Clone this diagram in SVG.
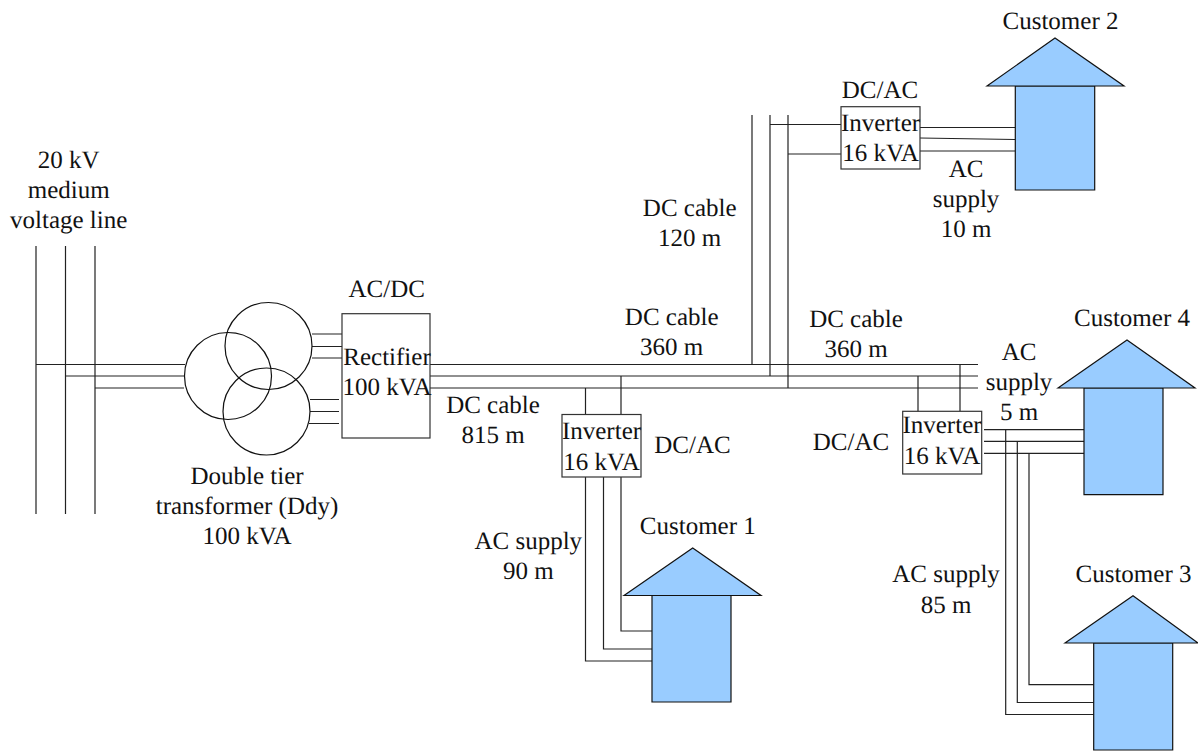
<svg xmlns="http://www.w3.org/2000/svg" width="1198" height="751" viewBox="0 0 1198 751">
<style>
text{font-family:"Liberation Serif","Times New Roman",serif;font-size:25px;fill:#111;text-anchor:middle;text-rendering:geometricPrecision}
.w{fill:none;stroke:#222;stroke-width:1.2}
.box{fill:#fff;stroke:#333;stroke-width:1.2}
.c{fill:none;stroke:#111;stroke-width:1.2}
.h{fill:#99ccff;stroke:#111;stroke-width:1.2;stroke-linejoin:miter}
</style>
<rect width="1198" height="751" fill="#fff"/>
<g id="connectors" class="w">
<path d="M36 246V514M65.500 246V514M95 246V514"/>
<path d="M36 364.500H185M65.500 376H184M95 388H184"/>
<path d="M312 334H342M312 346.500H342M312 358H342M310 399.500H339M310 411.500H339M309 423.500H339"/>
<path d="M430 364.500H978M430 376H978M430 388H978"/>
<path d="M585.500 388V414.500M621 376V414.500"/>
<path d="M621 477V631H652M603.500 477V649H652M585.500 477V661H652"/>
<path d="M752 115V364.500M770 115V376M788 115V388"/>
<path d="M770 124.500H841M788 154H841"/>
<path d="M920 127.500H1015M920 138L1015 139.500M920 151H1015"/>
<path d="M918 376V411.500M960 364.500V411.500"/>
<path d="M984 429.700H1084M984 441.300H1084M984 453.300H1084"/>
<path d="M1005.700 429.700V714.500H1094M1017.300 441.300V702.500H1094M1029 453.300V684.700H1094"/>
</g>
<g id="line-label"><text x="68.700" y="168">20 kV</text><text x="68.700" y="198">medium</text><text x="68.700" y="228">voltage line</text></g>
<g id="transformer">
<circle class="c" cx="228" cy="376" r="43.500"/>
<circle class="c" cx="268.500" cy="346" r="43.500"/>
<circle class="c" cx="266.500" cy="411.500" r="43.500"/>
<text x="247" y="484">Double tier</text><text x="247" y="514">transformer (Ddy)</text><text x="247" y="544">100 kVA</text>
</g>
<g id="rectifier">
<rect class="box" x="342" y="313.700" width="88" height="124.300"/>
<text x="386.700" y="296.500">AC/DC</text><text x="387" y="365">Rectifier</text><text x="387" y="395">100 kVA</text>
</g>
<g id="inverter-1">
<rect class="box" x="562" y="414.500" width="79" height="62.500"/>
<text x="601.500" y="439">Inverter</text><text x="601.500" y="470">16 kVA</text>
<text x="692.500" y="452.500">DC/AC</text>
</g>
<g id="inverter-2">
<rect class="box" x="841" y="106.700" width="79" height="62.300"/>
<text x="880.500" y="131">Inverter</text><text x="880.500" y="161">16 kVA</text>
<text x="880" y="97.500">DC/AC</text>
</g>
<g id="inverter-4">
<rect class="box" x="902.700" y="411.300" width="79" height="62.700"/>
<text x="942" y="433">Inverter</text><text x="942" y="464">16 kVA</text>
<text x="851" y="450">DC/AC</text>
</g>
<g id="customer-1">
<path class="h" d="M652 595.500H731V702H652Z"/>
<path class="h" d="M624 595.500L692.700 548L761 595.500Z"/>
<text x="697.800" y="534">Customer 1</text>
</g>
<g id="customer-2">
<path class="h" d="M1015.300 86H1094.700V190H1015.300Z"/>
<path class="h" d="M987 86L1055 38L1124 86Z"/>
<text x="1060.500" y="28.500">Customer 2</text>
</g>
<g id="customer-4">
<path class="h" d="M1084 388H1163V494.700H1084Z"/>
<path class="h" d="M1058 388L1127 340L1195 388Z"/>
<text x="1132" y="326">Customer 4</text>
</g>
<g id="customer-3">
<path class="h" d="M1093.700 643H1172.700V750H1093.700Z"/>
<path class="h" d="M1065 643L1133 595.700L1198 643Z"/>
<text x="1133.500" y="582">Customer 3</text>
</g>
<g id="labels">
<text x="689.700" y="216">DC cable</text><text x="689.700" y="246">120 m</text>
<text x="671.700" y="325">DC cable</text><text x="671.700" y="355">360 m</text>
<text x="856" y="326.500">DC cable</text><text x="856" y="356.500">360 m</text>
<text x="493" y="413">DC cable</text><text x="493" y="443">815 m</text>
<text x="966" y="176.500">AC</text><text x="966" y="207">supply</text><text x="966" y="237">10 m</text>
<text x="1019" y="359.500">AC</text><text x="1019" y="390">supply</text><text x="1019" y="420">5 m</text>
<text x="528.300" y="549">AC supply</text><text x="528.300" y="579">90 m</text>
<text x="946" y="582">AC supply</text><text x="946" y="613">85 m</text>
</g>
</svg>
